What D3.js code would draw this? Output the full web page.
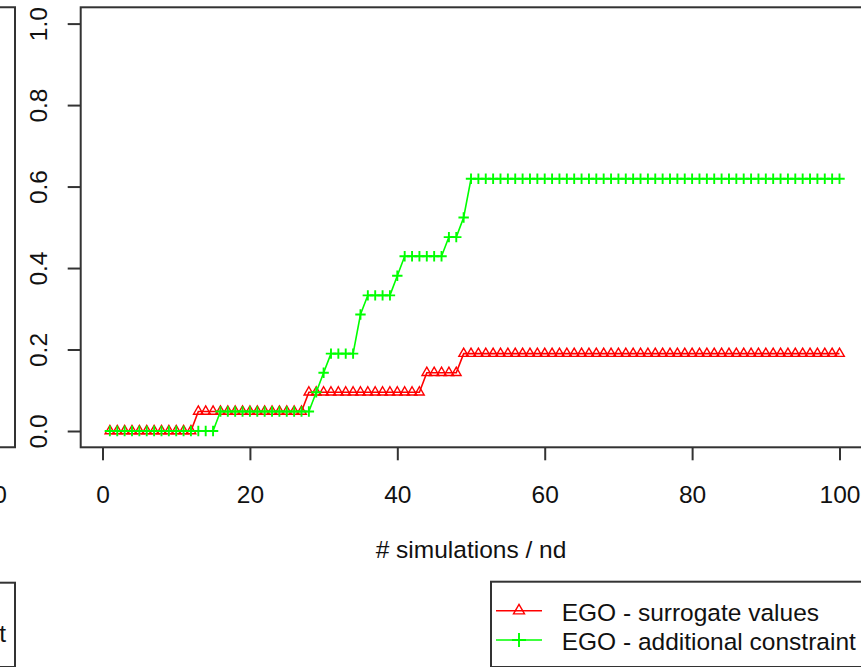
<!DOCTYPE html>
<html>
<head>
<meta charset="utf-8">
<script src="https://cdn.jsdelivr.net/npm/d3@7"></script>
<style>
  html, body { margin: 0; padding: 0; background: #fff; }
  svg { display: block; }
  text { font-family: "Liberation Sans", Arial, sans-serif; fill: #111; }
</style>
</head>
<body>
<svg id="chart" width="861" height="667"></svg>
<script>
// ---- data ----
const simulations = d3.range(1, 101); // x = 1..100
const surrogateValues = [
  0,0,0,0,0,0,0,0,0,0,0,0,
  0.048,0.048,0.048,0.048,0.048,0.048,0.048,0.048,0.048,0.048,0.048,0.048,0.048,0.048,0.048,
  0.095,0.095,0.095,0.095,0.095,0.095,0.095,0.095,0.095,0.095,0.095,0.095,0.095,0.095,0.095,0.095,
  0.143,0.143,0.143,0.143,0.143,
  0.19,0.19,0.19,0.19,0.19,0.19,0.19,0.19,0.19,0.19,0.19,0.19,0.19,0.19,0.19,0.19,0.19,0.19,0.19,0.19,
  0.19,0.19,0.19,0.19,0.19,0.19,0.19,0.19,0.19,0.19,0.19,0.19,0.19,0.19,0.19,0.19,0.19,0.19,0.19,0.19,
  0.19,0.19,0.19,0.19,0.19,0.19,0.19,0.19,0.19,0.19,0.19,0.19
];
const additionalConstraint = [
  0,0,0,0,0,0,0,0,0,0,0,0,0,0,0,
  0.048,0.048,0.048,0.048,0.048,0.048,0.048,0.048,0.048,0.048,0.048,0.048,0.048,
  0.095,
  0.143,
  0.19,0.19,0.19,0.19,
  0.286,
  0.333,0.333,0.333,0.333,
  0.381,
  0.429,0.429,0.429,0.429,0.429,0.429,
  0.476,0.476,
  0.524,
  0.619,0.619,0.619,0.619,0.619,0.619,0.619,0.619,0.619,0.619,0.619,0.619,0.619,0.619,0.619,0.619,0.619,
  0.619,0.619,0.619,0.619,0.619,0.619,0.619,0.619,0.619,0.619,0.619,0.619,0.619,0.619,0.619,0.619,0.619,
  0.619,0.619,0.619,0.619,0.619,0.619,0.619,0.619,0.619,0.619,0.619,0.619,0.619,0.619,0.619,0.619,0.619
];
const xTicks = [0, 20, 40, 60, 80, 100];
const yTicks = [0, 0.2, 0.4, 0.6, 0.8, 1.0];
const seriesNames = ["EGO - surrogate values", "EGO - additional constraint"];
const seriesColors = ["#ff0000", "#00ff00"];
const xLabel = "# simulations / nd";

// ---- layout ----
const svg = d3.select("#chart");
const box = { left: 80.7, right: 868.7, top: 7.3, bottom: 447.3 };
const x = d3.scaleLinear().domain([-2.96, 103.96]).range([box.left, box.right]);
const y = d3.scaleLinear().domain([-0.04, 1.04]).range([box.bottom, box.top]);
const axisColor = "#333";
const fs = 24.5;

// left neighbouring panel (only its right edge is visible)
const leftOffset = 15 - box.right;
const xLeft = d3.scaleLinear().domain(x.domain()).range([box.left + leftOffset, box.right + leftOffset]);
svg.append("path")
  .attr("d", `M-20,${box.top}H15V${box.bottom}H-20`)
  .attr("fill", "none").attr("stroke", axisColor).attr("stroke-width", 2);
const axL = svg.append("g").attr("transform", `translate(0,${box.bottom})`)
  .call(d3.axisBottom(xLeft).tickValues([xTicks[xTicks.length - 1]]).tickSize(13).tickPadding(25).tickFormat(d3.format("d")));
axL.select(".domain").remove();
axL.selectAll(".tick line").attr("stroke", axisColor).attr("stroke-width", 2);
axL.selectAll(".tick text").attr("font-size", fs).attr("fill", "#111");

// left legend box
svg.append("rect").attr("x", -400).attr("y", 582.7).attr("width", 415).attr("height", 84.3)
  .attr("fill", "none").attr("stroke", axisColor).attr("stroke-width", 2);
svg.append("text").attr("x", 6).attr("y", 642).attr("text-anchor", "end")
  .attr("font-size", fs).text(seriesNames[1]);

// main plot box
svg.append("rect")
  .attr("x", box.left).attr("y", box.top)
  .attr("width", box.right - box.left).attr("height", box.bottom - box.top)
  .attr("fill", "none").attr("stroke", axisColor).attr("stroke-width", 2);

// x axis
const ax = svg.append("g").attr("transform", `translate(0,${box.bottom})`)
  .call(d3.axisBottom(x).tickValues(xTicks).tickSize(13).tickPadding(25).tickFormat(d3.format("d")));
ax.select(".domain").remove();
ax.selectAll(".tick line").attr("stroke", axisColor).attr("stroke-width", 2);
ax.selectAll(".tick text").attr("font-size", fs).attr("fill", "#111");

// y axis
const ay = svg.append("g").attr("transform", `translate(${box.left},0)`)
  .call(d3.axisLeft(y).tickValues(yTicks).tickSize(13).tickFormat(d3.format(".1f")));
ay.select(".domain").remove();
ay.selectAll(".tick line").attr("stroke", axisColor).attr("stroke-width", 2);
ay.selectAll(".tick text")
  .attr("font-size", fs).attr("fill", "#111")
  .attr("x", null).attr("y", null).attr("dy", null)
  .attr("text-anchor", "middle")
  .attr("transform", "translate(-34,0) rotate(-90)");

// x label
svg.append("text").attr("x", (x(0) + x(100)) / 2).attr("y", 558)
  .attr("text-anchor", "middle").attr("font-size", fs).text(xLabel);

// ---- series ----
const tri = (s) => {
  const h = s / (2 * Math.sqrt(3));
  return `M0,${-2 * h}L${s / 2},${h}L${-s / 2},${h}Z`;
};
const plus = (a) => `M${-a},0H${a}M0,${-a}V${a}`;
const line = d3.line().x((d, i) => x(simulations[i])).y(d => y(d));

const g = svg.append("g");
// red series
g.append("path").datum(surrogateValues).attr("d", line)
  .attr("fill", "none").attr("stroke", seriesColors[0]).attr("stroke-width", 1.6);
g.selectAll(".tri").data(surrogateValues).join("path").attr("class", "tri")
  .attr("transform", (d, i) => `translate(${x(simulations[i])},${y(d)})`)
  .attr("d", tri(9.6)).attr("fill", "none").attr("stroke", seriesColors[0]).attr("stroke-width", 1.4);
// green series
g.append("path").datum(additionalConstraint).attr("d", line)
  .attr("fill", "none").attr("stroke", seriesColors[1]).attr("stroke-width", 1.6);
g.selectAll(".plus").data(additionalConstraint).join("path").attr("class", "plus")
  .attr("transform", (d, i) => `translate(${x(simulations[i])},${y(d)})`)
  .attr("d", plus(5.2)).attr("fill", "none").attr("stroke", seriesColors[1]).attr("stroke-width", 1.9);

// ---- legend ----
const lg = svg.append("g");
lg.append("rect").attr("x", 491).attr("y", 581.7).attr("width", 420).attr("height", 85.3)
  .attr("fill", "none").attr("stroke", axisColor).attr("stroke-width", 2);
const rowsY = [610.7, 640];
seriesNames.forEach((name, i) => {
  lg.append("line").attr("x1", 496).attr("x2", 542).attr("y1", rowsY[i]).attr("y2", rowsY[i])
    .attr("stroke", seriesColors[i]).attr("stroke-width", 1.6);
  lg.append("path").attr("transform", `translate(519,${rowsY[i]})`)
    .attr("d", i === 0 ? tri(11) : plus(7))
    .attr("fill", "none").attr("stroke", seriesColors[i]).attr("stroke-width", i === 0 ? 1.4 : 1.9);
  lg.append("text").attr("x", 561.7).attr("y", rowsY[i] + 10.2)
    .attr("font-size", fs).text(name);
});
</script>
</body>
</html>
